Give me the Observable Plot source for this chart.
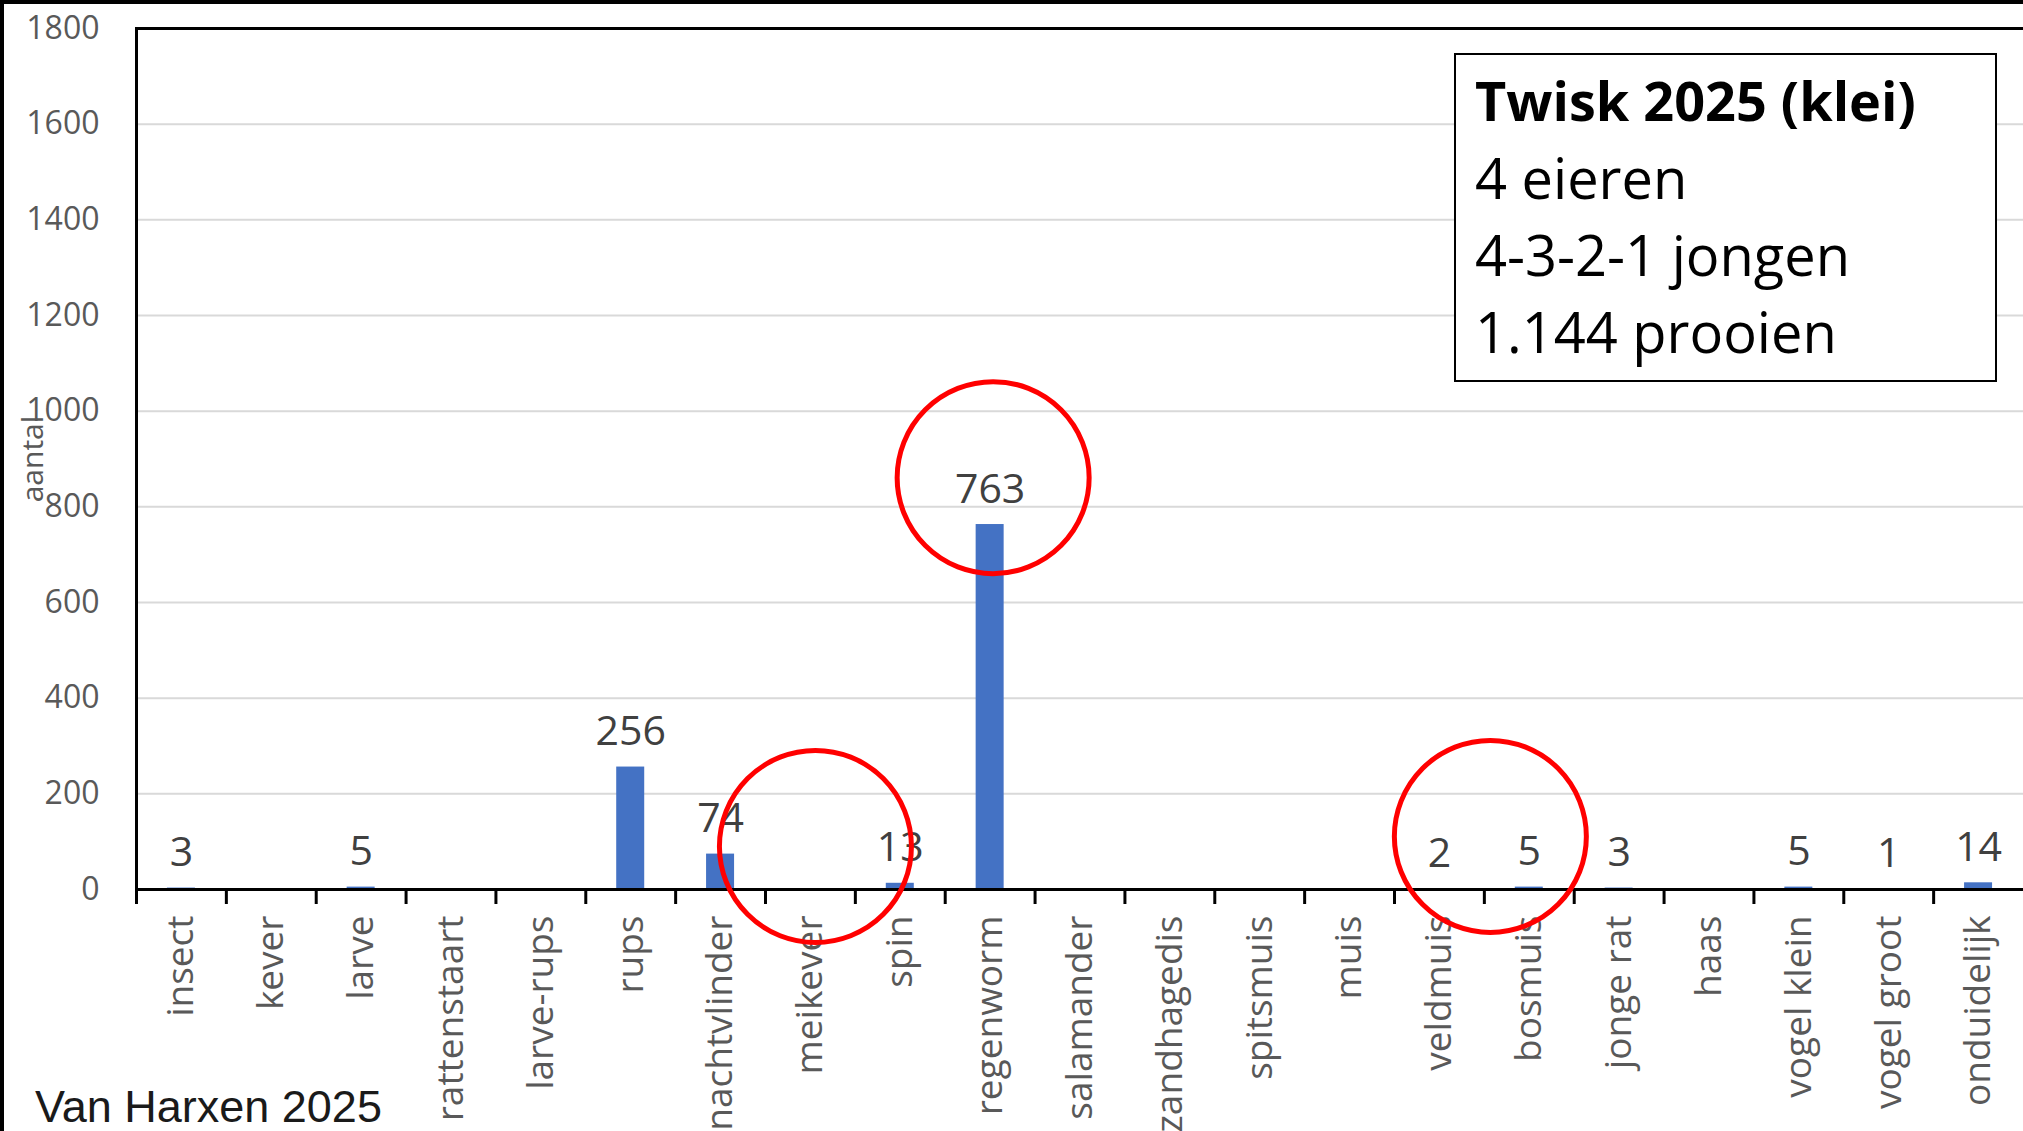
<!DOCTYPE html>
<html>
<head>
<meta charset="utf-8">
<script src="https://cdn.jsdelivr.net/npm/d3@7"></script>
<script src="https://cdn.jsdelivr.net/npm/@observablehq/plot@0.6"></script>
<style>
  html, body { margin: 0; padding: 0; background: #fff; }
  #wrap { position: relative; width: 2023px; height: 1131px; overflow: hidden; background: #fff; font-family: "Open Sans", sans-serif; }
  #chart { position: absolute; left: 0; top: 0; }
  #edge { position: absolute; left: 0; top: 0; width: 2023px; height: 1131px; border-top: 4px solid #000; border-left: 4px solid #000; box-sizing: border-box; pointer-events: none; }
  #box { position: absolute; left: 1454px; top: 53px; width: 543px; height: 329px; box-sizing: border-box; border: 2px solid #000; background: #fff; padding: 7px 0 0 19px; font-family: "Open Sans", sans-serif; font-size: 56px; line-height: 77px; color: #000; }
  #box .t { font-weight: 700; font-size: 54px; }
  #source { position: absolute; left: 35px; top: 1081px; font-family: "Liberation Sans", Arial, sans-serif; font-size: 45px; color: #1a1a1a; white-space: nowrap; }
</style>
</head>
<body>
<div id="wrap">
  <div id="chart"></div>
  <div id="box"></div>
  <div id="source"></div>
  <div id="edge"></div>
</div>
<script>
// ---- data ----
const categories = ["insect", "kever", "larve", "rattenstaart", "larve-rups", "rups", "nachtvlinder", "meikever", "spin", "regenworm", "salamander", "zandhagedis", "spitsmuis", "muis", "veldmuis", "bosmuis", "jonge rat", "haas", "vogel klein", "vogel groot", "onduidelijk"];
const counts = [3, 0, 5, 0, 0, 256, 74, 0, 13, 763, 0, 0, 0, 0, 2, 5, 3, 0, 5, 1, 14];
const yTicks = [0, 200, 400, 600, 800, 1000, 1200, 1400, 1600, 1800];
const yLabel = "aantal";
const boxTitle = "Twisk 2025 (klei)";
const boxLines = ["4 eieren", "4-3-2-1 jongen", "1.144 prooien"];
const sourceText = "Van Harxen 2025";
// annotation circles (category, value)
const circleCats = ["regenworm", "meikever", "veldmuis"];
const circleVals = [861, 90, 111];

const data = categories.map((c, i) => ({cat: c, n: counts[i]}));

// ---- layout ----
const W = 2023, H = 1131;
const mL = 136, mR = 0, mT = 28, mB = 242;
const band = (W - mL - mR) / categories.length;
const barW = 28;
const circleDx = [3, 5, band / 2 + 6];

const chart = Plot.plot({
  width: W,
  height: H,
  marginLeft: mL,
  marginRight: mR,
  marginTop: mT,
  marginBottom: mB,
  style: {fontFamily: "'Open Sans', sans-serif", background: "transparent", overflow: "visible"},
  x: {domain: categories, padding: 0, round: false, label: null},
  y: {domain: [0, 1800], label: null},
  marks: [
    Plot.gridY(yTicks.filter(t => t > 0 && t < 1800), {stroke: "#d9d9d9", strokeOpacity: 1, strokeWidth: 2}),
    Plot.axisY(yTicks, {tickSize: 0, tickPadding: 37, fontSize: 32, color: "#595959", tickFormat: d => String(d), label: null}),
    Plot.text([yLabel], {frameAnchor: "left", textAnchor: "middle", rotate: -90, dx: -103, fontSize: 30, fill: "#595959"}),
    Plot.barY(data, {x: "cat", y: "n", fill: "#4472C4", insetLeft: (band - barW) / 2, insetRight: (band - barW) / 2}),
    Plot.ruleY([1800], {stroke: "#000", strokeWidth: 3}),
    Plot.ruleY([0], {stroke: "#000", strokeWidth: 3}),
    Plot.frame({anchor: "left", stroke: "#000", strokeWidth: 3}),
    Plot.axisX({tickSize: 15, tickFormat: () => "", dx: -band / 2, stroke: "#000", strokeWidth: 3, label: null}),
    Plot.axisX({tickSize: 0, tickPadding: 26, tickRotate: -90, fontSize: 37, color: "#595959", label: null}),
    Plot.text(data.filter(d => d.n > 0), {x: "cat", y: "n", text: d => String(d.n), lineAnchor: "bottom", dy: -22, fontSize: 41, fill: "#404040"}),
    ...circleCats.map((c, i) => Plot.dot([{cat: c, v: circleVals[i]}], {x: "cat", y: "v", r: 96, dx: circleDx[i], stroke: "#ff0000", strokeWidth: 5, fill: "none"}))
  ]
});
document.getElementById("chart").appendChild(chart);

const box = document.getElementById("box");
const t = document.createElement("div");
t.className = "t";
t.textContent = boxTitle;
box.appendChild(t);
for (const l of boxLines) {
  const d = document.createElement("div");
  d.textContent = l;
  box.appendChild(d);
}
document.getElementById("source").textContent = sourceText;
</script>
</body>
</html>
